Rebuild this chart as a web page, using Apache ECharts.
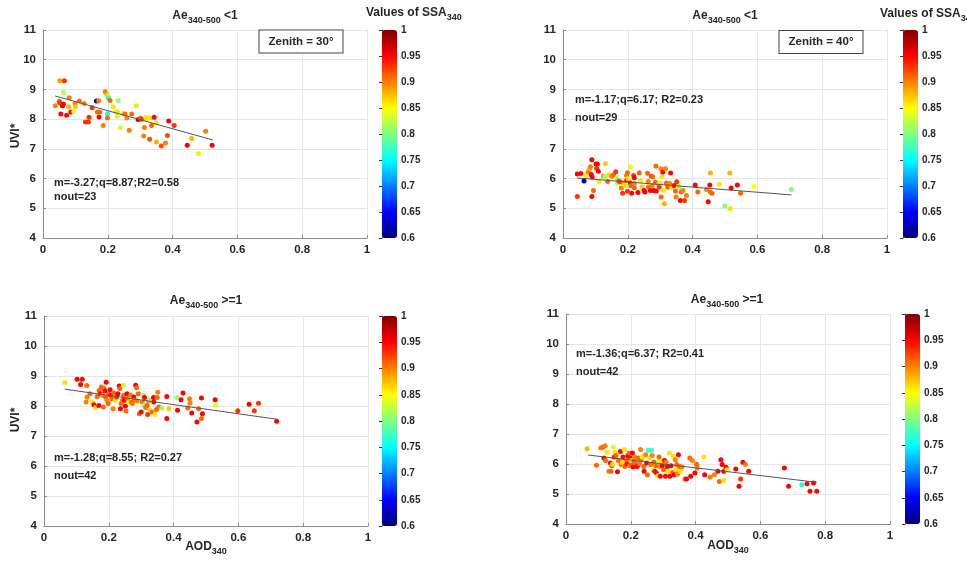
<!DOCTYPE html>
<html><head><meta charset="utf-8">
<script src="https://cdn.jsdelivr.net/npm/echarts@6/dist/echarts.min.js"></script>
<style>html,body{margin:0;padding:0;background:#fff}#c{width:967px;height:564px}</style>
</head><body><div id="c"></div>
<script>
// ---------- data ----------
const xTicks = [0, 0.2, 0.4, 0.6, 0.8, 1];
const yTicks = [4, 5, 6, 7, 8, 9, 10, 11];
const ssaTicks = [0.6, 0.65, 0.7, 0.75, 0.8, 0.85, 0.9, 0.95, 1];

// [AOD340, UVI*, SSA340]
const tlPoints = [[0.052,9.29,0.89],[0.066,9.29,0.93],[0.063,8.90,0.82],[0.081,8.72,0.90],[0.038,8.45,0.90],[0.050,8.60,0.91],[0.052,8.55,0.93],[0.063,8.50,0.95],[0.060,8.45,0.95],[0.079,8.42,0.88],[0.055,8.17,0.95],[0.073,8.13,0.95],[0.086,8.24,0.95],[0.095,8.26,0.83],[0.099,8.53,0.90],[0.100,8.42,0.87],[0.112,8.61,0.91],[0.127,8.53,0.90],[0.131,7.90,0.93],[0.140,7.90,0.93],[0.142,8.06,0.93],[0.152,8.38,0.93],[0.165,8.61,0.63],[0.172,8.62,0.90],[0.168,8.24,0.91],[0.175,8.24,0.91],[0.173,8.07,0.95],[0.186,7.79,0.90],[0.192,8.92,0.90],[0.197,8.82,0.88],[0.200,8.78,0.86],[0.202,8.70,0.76],[0.207,8.63,0.91],[0.199,8.18,0.76],[0.199,8.04,0.91],[0.217,8.42,0.86],[0.225,8.25,0.83],[0.230,8.25,0.86],[0.229,8.10,0.83],[0.232,8.63,0.81],[0.239,7.71,0.83],[0.247,8.19,0.86],[0.253,8.17,0.91],[0.259,8.04,0.90],[0.266,7.63,0.90],[0.274,8.17,0.91],[0.288,8.45,0.86],[0.294,7.99,0.98],[0.300,8.03,0.91],[0.305,8.00,0.93],[0.317,8.06,0.86],[0.320,8.00,0.86],[0.328,8.05,0.86],[0.343,8.06,0.95],[0.313,7.72,0.90],[0.335,7.79,0.91],[0.349,7.88,0.86],[0.311,7.43,0.90],[0.329,7.32,0.92],[0.350,7.23,0.88],[0.365,7.10,0.92],[0.378,7.20,0.90],[0.384,7.45,0.92],[0.388,7.94,0.95],[0.405,7.79,0.93],[0.445,7.12,0.95],[0.459,7.35,0.88],[0.480,6.84,0.86],[0.502,7.59,0.90],[0.522,7.12,0.95]];

const trPoints = [[0.044,6.15,0.95],[0.055,6.17,0.95],[0.044,5.40,0.93],[0.065,5.92,0.63],[0.070,6.09,0.86],[0.078,6.23,0.90],[0.082,6.34,0.88],[0.085,6.40,0.90],[0.089,6.63,0.95],[0.087,6.14,0.95],[0.090,6.06,0.95],[0.089,5.40,0.95],[0.094,5.60,0.91],[0.102,6.49,0.95],[0.106,6.49,0.95],[0.104,6.34,0.93],[0.109,6.25,0.95],[0.111,5.89,0.86],[0.125,6.08,0.90],[0.129,6.06,0.81],[0.131,6.51,0.87],[0.138,5.90,0.91],[0.142,6.13,0.86],[0.150,6.08,0.90],[0.156,6.13,0.91],[0.163,6.23,0.93],[0.166,6.00,0.81],[0.168,5.85,0.81],[0.172,5.92,0.91],[0.176,5.89,0.93],[0.180,5.68,0.90],[0.184,5.51,0.93],[0.187,5.85,0.90],[0.190,5.78,0.86],[0.193,5.76,0.86],[0.196,6.10,0.90],[0.197,5.94,0.95],[0.199,6.20,0.91],[0.201,6.00,0.86],[0.199,5.57,0.93],[0.208,6.40,0.84],[0.208,5.85,0.95],[0.210,5.76,0.91],[0.212,5.51,0.95],[0.218,6.10,0.93],[0.220,6.03,0.95],[0.220,5.69,0.91],[0.220,5.83,0.90],[0.231,5.53,0.95],[0.235,6.20,0.91],[0.240,5.94,0.86],[0.244,5.72,0.87],[0.250,5.60,0.95],[0.253,5.55,0.95],[0.261,6.18,0.91],[0.263,5.90,0.90],[0.264,5.72,0.91],[0.270,5.60,0.95],[0.273,6.08,0.93],[0.275,5.76,0.90],[0.277,6.06,0.91],[0.280,5.60,0.95],[0.285,5.88,0.91],[0.287,6.42,0.91],[0.288,5.58,0.95],[0.294,5.81,0.88],[0.297,5.72,0.93],[0.300,5.85,0.86],[0.302,6.33,0.90],[0.303,5.38,0.91],[0.305,6.07,0.86],[0.308,6.22,0.95],[0.310,5.60,0.86],[0.313,5.15,0.88],[0.316,6.33,0.90],[0.319,5.85,0.91],[0.323,5.72,0.91],[0.329,5.83,0.90],[0.332,6.19,0.95],[0.336,5.70,0.86],[0.343,5.77,0.95],[0.347,5.58,0.91],[0.349,5.38,0.90],[0.351,5.89,0.93],[0.356,5.74,0.86],[0.358,5.70,0.81],[0.362,5.26,0.95],[0.365,5.55,0.91],[0.370,5.60,0.90],[0.375,5.26,0.93],[0.381,5.43,0.90],[0.408,5.78,0.95],[0.416,5.55,0.91],[0.443,5.63,0.90],[0.448,5.22,0.95],[0.453,5.78,0.95],[0.455,6.19,0.88],[0.455,5.55,0.91],[0.460,5.51,0.91],[0.483,5.81,0.86],[0.499,5.08,0.80],[0.515,6.19,0.88],[0.516,4.99,0.86],[0.519,5.68,0.95],[0.538,5.78,0.95],[0.548,5.51,0.91],[0.589,5.73,0.85],[0.705,5.63,0.80]];

const blPoints = [[0.064,8.78,0.86],[0.102,8.89,0.95],[0.118,8.89,0.95],[0.113,8.72,0.95],[0.132,8.68,0.91],[0.130,8.13,0.90],[0.133,8.30,0.90],[0.142,8.41,0.91],[0.149,8.13,0.86],[0.154,8.04,0.95],[0.159,7.94,0.86],[0.164,8.32,0.91],[0.169,8.02,0.95],[0.170,8.52,0.91],[0.174,8.41,0.95],[0.177,8.63,0.91],[0.180,8.36,0.90],[0.183,7.97,0.91],[0.185,8.58,0.91],[0.188,8.50,0.95],[0.190,8.30,0.91],[0.192,8.79,0.95],[0.194,8.19,0.90],[0.198,8.08,0.91],[0.200,8.39,0.91],[0.204,8.54,0.95],[0.206,8.36,0.95],[0.210,8.24,0.91],[0.213,7.91,0.90],[0.215,8.43,0.91],[0.220,8.19,0.86],[0.224,8.30,0.93],[0.228,8.41,0.95],[0.232,8.67,0.95],[0.234,8.58,0.91],[0.236,7.91,0.95],[0.238,8.08,0.91],[0.242,8.19,0.90],[0.245,8.70,0.83],[0.246,8.36,0.91],[0.248,8.19,0.95],[0.251,7.99,0.95],[0.253,7.83,0.91],[0.256,8.41,0.95],[0.258,8.24,0.91],[0.262,8.13,0.86],[0.267,8.37,0.90],[0.270,8.13,0.91],[0.273,8.08,0.90],[0.277,8.30,0.95],[0.279,8.19,0.91],[0.283,8.69,0.95],[0.286,8.61,0.91],[0.287,8.17,0.90],[0.291,8.41,0.91],[0.294,7.74,0.91],[0.300,7.80,0.95],[0.303,8.13,0.90],[0.307,8.36,0.81],[0.308,8.02,0.81],[0.310,8.28,0.95],[0.314,7.94,0.90],[0.318,8.02,0.91],[0.320,7.72,0.93],[0.323,8.17,0.90],[0.326,8.21,0.81],[0.328,7.86,0.86],[0.333,7.80,0.91],[0.338,8.28,0.95],[0.339,8.13,0.95],[0.343,7.72,0.86],[0.347,7.88,0.91],[0.349,8.28,0.91],[0.351,8.46,0.90],[0.355,7.97,0.91],[0.364,7.93,0.81],[0.379,8.32,0.95],[0.379,7.58,0.95],[0.385,7.91,0.87],[0.410,8.28,0.81],[0.412,7.86,0.95],[0.423,8.21,0.95],[0.429,8.43,0.95],[0.444,7.93,0.91],[0.449,8.24,0.90],[0.451,8.10,0.90],[0.456,7.77,0.95],[0.472,7.47,0.95],[0.477,7.91,0.91],[0.486,8.27,0.95],[0.486,7.58,0.91],[0.489,7.74,0.95],[0.528,8.21,0.95],[0.530,8.04,0.84],[0.598,7.84,0.93],[0.633,8.06,0.95],[0.649,7.84,0.93],[0.662,8.09,0.93],[0.718,7.49,0.95]];

const brPoints = [[0.065,6.51,0.88],[0.094,5.96,0.91],[0.107,6.53,0.90],[0.114,6.57,0.91],[0.121,6.61,0.90],[0.117,6.20,0.95],[0.122,6.12,0.91],[0.127,6.39,0.86],[0.132,5.76,0.90],[0.139,5.76,0.91],[0.137,6.03,0.95],[0.141,5.94,0.91],[0.144,6.00,0.86],[0.146,6.57,0.83],[0.149,6.23,0.95],[0.151,6.39,0.86],[0.154,6.28,0.91],[0.159,5.74,0.95],[0.161,6.12,0.90],[0.166,6.09,0.91],[0.168,6.42,0.95],[0.170,5.98,0.90],[0.174,6.06,0.86],[0.176,6.23,0.95],[0.180,6.48,0.86],[0.182,5.92,0.91],[0.186,6.14,0.90],[0.188,6.01,0.95],[0.191,6.28,0.95],[0.195,6.37,0.91],[0.196,5.94,0.90],[0.198,6.20,0.95],[0.200,5.98,0.91],[0.202,6.12,0.86],[0.205,6.37,0.95],[0.207,5.90,0.95],[0.210,6.10,0.91],[0.212,6.23,0.90],[0.215,6.03,0.91],[0.220,5.92,0.95],[0.223,6.20,0.91],[0.227,6.01,0.90],[0.230,6.48,0.90],[0.232,6.14,0.91],[0.235,6.23,0.86],[0.240,5.92,0.91],[0.241,5.76,0.95],[0.246,6.31,0.90],[0.249,6.03,0.95],[0.251,5.64,0.91],[0.254,6.46,0.77],[0.257,6.20,0.86],[0.261,5.98,0.91],[0.264,6.46,0.77],[0.266,6.28,0.90],[0.269,5.79,0.86],[0.271,6.07,0.91],[0.274,5.76,0.95],[0.277,5.94,0.91],[0.279,5.70,0.95],[0.283,5.61,0.86],[0.285,6.08,0.83],[0.287,6.23,0.91],[0.289,5.92,0.90],[0.291,5.59,0.95],[0.294,6.08,0.86],[0.297,5.94,0.95],[0.301,5.81,0.91],[0.304,6.12,0.95],[0.307,5.59,0.95],[0.309,6.06,0.90],[0.313,5.92,0.95],[0.315,5.76,0.86],[0.319,6.37,0.86],[0.321,5.59,0.95],[0.324,5.94,0.95],[0.329,5.72,0.91],[0.332,6.26,0.86],[0.334,5.64,0.95],[0.337,6.14,0.90],[0.339,5.81,0.86],[0.342,5.98,0.91],[0.344,5.66,0.90],[0.347,6.31,0.95],[0.350,5.92,0.91],[0.354,5.76,0.86],[0.358,5.90,0.90],[0.367,5.50,0.91],[0.372,5.50,0.95],[0.382,6.20,0.91],[0.385,5.59,0.95],[0.390,6.12,0.90],[0.398,5.70,0.95],[0.403,5.99,0.91],[0.405,5.87,0.90],[0.425,6.23,0.86],[0.428,5.64,0.95],[0.445,5.57,0.90],[0.458,5.64,0.90],[0.469,5.76,0.95],[0.473,5.42,0.91],[0.478,6.14,0.95],[0.482,5.98,0.95],[0.487,5.76,0.95],[0.487,5.46,0.86],[0.494,5.89,0.95],[0.497,5.81,0.86],[0.524,5.83,0.95],[0.534,5.26,0.95],[0.539,5.50,0.93],[0.546,6.06,0.95],[0.554,5.98,0.90],[0.564,5.76,0.95],[0.674,5.87,0.95],[0.687,5.26,0.95],[0.728,5.31,0.76],[0.744,5.34,0.95],[0.753,5.09,0.95],[0.764,5.37,0.95],[0.774,5.09,0.95]];

// regression lines, endpoints
const tlFit = [[0.037, 8.78], [0.524, 7.30]];
const trFit = [[0.044, 6.02], [0.705, 5.45]];
const blFit = [[0.064, 8.56], [0.718, 7.56]];
const brFit = [[0.068, 6.30], [0.774, 5.39]];

const fitTexts = ['m=-3.27;q=8.87;R2=0.58', 'm=-1.17;q=6.17; R2=0.23', 'm=-1.28;q=8.55; R2=0.27', 'm=-1.36;q=6.37; R2=0.41'];
const noutTexts = ['nout=23', 'nout=29', 'nout=42', 'nout=42'];
const zenithTexts = ['Zenith = 30°', 'Zenith = 40°'];

// ---------- chart ----------
const FONT = '"Liberation Sans", Arial, sans-serif';
const TXT = '#262626';
const AX = '#8c8c8c';
const jet = ['#00007F','#0000FF','#007FFF','#00FFFF','#7FFF7F','#FFFF00','#FF7F00','#FF0000','#7F0000'];

const panels = [
  {grid: {left: 43, top: 30, width: 324, height: 208}, cb: {left: 382, top: 30, width: 15, height: 208}, pts: tlPoints, fit: tlFit},
  {grid: {left: 563, top: 30, width: 324, height: 208}, cb: {left: 903, top: 30, width: 15, height: 208}, pts: trPoints, fit: trFit},
  {grid: {left: 44, top: 316, width: 324, height: 210}, cb: {left: 382, top: 316, width: 15, height: 210}, pts: blPoints, fit: blFit},
  {grid: {left: 566, top: 314, width: 324, height: 210}, cb: {left: 905, top: 314, width: 15, height: 210}, pts: brPoints, fit: brFit}
];

const grids = [], xAxes = [], yAxes = [], series = [], visualMaps = [];
const lbl = {fontFamily: FONT, fontWeight: 'bold', fontSize: 11.5, color: TXT};

panels.forEach((p, i) => {
  grids.push(Object.assign({containLabel: false}, p.grid));
  xAxes.push({type: 'value', gridIndex: i, min: xTicks[0], max: xTicks[xTicks.length-1], interval: xTicks[1]-xTicks[0],
    axisLine: {show: true, onZero: false, lineStyle: {color: AX, width: 1}},
    axisTick: {show: true, inside: true, length: 3, lineStyle: {color: AX}},
    splitLine: {show: true, lineStyle: {color: '#e6e6e6', width: 1}},
    axisLabel: Object.assign({margin: 6}, lbl)});
  yAxes.push({type: 'value', gridIndex: i, min: yTicks[0], max: yTicks[yTicks.length-1], interval: yTicks[1]-yTicks[0],
    axisLine: {show: true, onZero: false, lineStyle: {color: AX, width: 1}},
    axisTick: {show: true, inside: true, length: 3, lineStyle: {color: AX}},
    splitLine: {show: true, lineStyle: {color: '#e6e6e6', width: 1}},
    axisLabel: Object.assign({margin: 7}, lbl)});
});
panels.forEach((p, i) => {
  const gi = 4 + i;
  grids.push(Object.assign({}, p.cb));
  xAxes.push({type: 'value', gridIndex: gi, min: 0, max: 1, show: false});
  yAxes.push({type: 'value', gridIndex: gi, position: 'right', min: ssaTicks[0], max: ssaTicks[ssaTicks.length-1],
    interval: +(ssaTicks[1]-ssaTicks[0]).toFixed(2),
    axisLine: {show: true, lineStyle: {color: '#333', width: 1}},
    axisTick: {show: true, inside: true, length: 3, lineStyle: {color: '#333'}},
    splitLine: {show: false},
    axisLabel: {margin: 4, fontFamily: FONT, fontWeight: 'bold', fontSize: 10, color: TXT}});
});
panels.forEach((p, i) => {
  series.push({type: 'scatter', xAxisIndex: i, yAxisIndex: i, data: p.pts, symbolSize: 5,
    itemStyle: {opacity: 1}, z: 3, silent: true});
});
panels.forEach((p, i) => {
  series.push({type: 'line', xAxisIndex: i, yAxisIndex: i, data: p.fit, showSymbol: false, symbol: 'none',
    lineStyle: {color: '#555', width: 1}, z: 4, silent: true});
  visualMaps.push({type: 'continuous', seriesIndex: i, dimension: 2, min: ssaTicks[0], max: ssaTicks[ssaTicks.length-1],
    inRange: {color: jet}, orient: 'vertical', left: p.cb.left, top: p.cb.top, itemWidth: p.cb.width, itemHeight: p.cb.height,
    padding: 0, calculable: false, hoverLink: false, text: null, textGap: 0});
});

function richTitle(main, sub, tail, x, y) {
  return {type: 'text', x: x, y: y, z: 100, silent: true, style: {
    text: '{a|' + main + '}{s|' + sub + '}{a|' + tail + '}', align: 'center', verticalAlign: 'middle',
    rich: {a: {fontFamily: FONT, fontWeight: 'bold', fontSize: 12, fill: TXT},
           s: {fontFamily: FONT, fontWeight: 'bold', fontSize: 9, fill: TXT, padding: [9, 0, 0, 0]}}}};
}
function richLeft(main, sub, x, y) {
  return {type: 'text', x: x, y: y, z: 100, silent: true, style: {
    text: '{a|' + main + '}{s|' + sub + '}', align: 'left', verticalAlign: 'middle',
    rich: {a: {fontFamily: FONT, fontWeight: 'bold', fontSize: 12, fill: TXT},
           s: {fontFamily: FONT, fontWeight: 'bold', fontSize: 9, fill: TXT, padding: [9, 0, 0, 0]}}}};
}
function plain(t, x, y, size, align, rot) {
  return {type: 'text', x: x, y: y, z: 100, rotation: rot || 0, silent: true, style: {text: t, align: align || 'left', verticalAlign: 'middle',
    fontFamily: FONT, fontWeight: 'bold', fontSize: size, fill: TXT}};
}
function boxed(t, x, y) {
  return {type: 'text', x: x, y: y, z: 100, silent: true, style: {text: t, align: 'center', verticalAlign: 'middle',
    fontFamily: FONT, fontWeight: 'bold', fontSize: 11.5, fill: TXT, backgroundColor: '#fff',
    borderColor: '#444', borderWidth: 1, padding: [5, 9, 5, 9]}};
}

const graphic = [
  richTitle('Ae', '340-500', ' <1', 205, 16),
  richTitle('Ae', '340-500', ' <1', 725, 16),
  richTitle('Ae', '340-500', ' >=1', 206, 301),
  richTitle('Ae', '340-500', ' >=1', 727, 300),
  richLeft('Values of SSA', '340', 366, 13),
  richLeft('Values of SSA', '340', 880, 14),
  boxed(zenithTexts[0], 301, 41.5),
  boxed(zenithTexts[1], 821, 42),
  plain(fitTexts[0], 54, 183, 11, 'left'),
  plain(noutTexts[0], 54, 197, 11, 'left'),
  plain(fitTexts[1], 575, 100, 11, 'left'),
  plain(noutTexts[1], 575, 118, 11, 'left'),
  plain(fitTexts[2], 54, 458, 11, 'left'),
  plain(noutTexts[2], 54, 476, 11, 'left'),
  plain(fitTexts[3], 576, 354, 11, 'left'),
  plain(noutTexts[3], 576, 372, 11, 'left'),
  plain('UVI*', 16, 136, 12, 'center', Math.PI / 2),
  plain('UVI*', 16, 420, 12, 'center', Math.PI / 2),
  richTitle('AOD', '340', '', 206, 547),
  richTitle('AOD', '340', '', 728, 546)
];

const chart = echarts.init(document.getElementById('c'), null, {renderer: 'canvas'});
chart.setOption({
  backgroundColor: '#fff',
  animation: false,
  grid: grids, xAxis: xAxes, yAxis: yAxes, series: series, visualMap: visualMaps, graphic: graphic
});
</script></body></html>
